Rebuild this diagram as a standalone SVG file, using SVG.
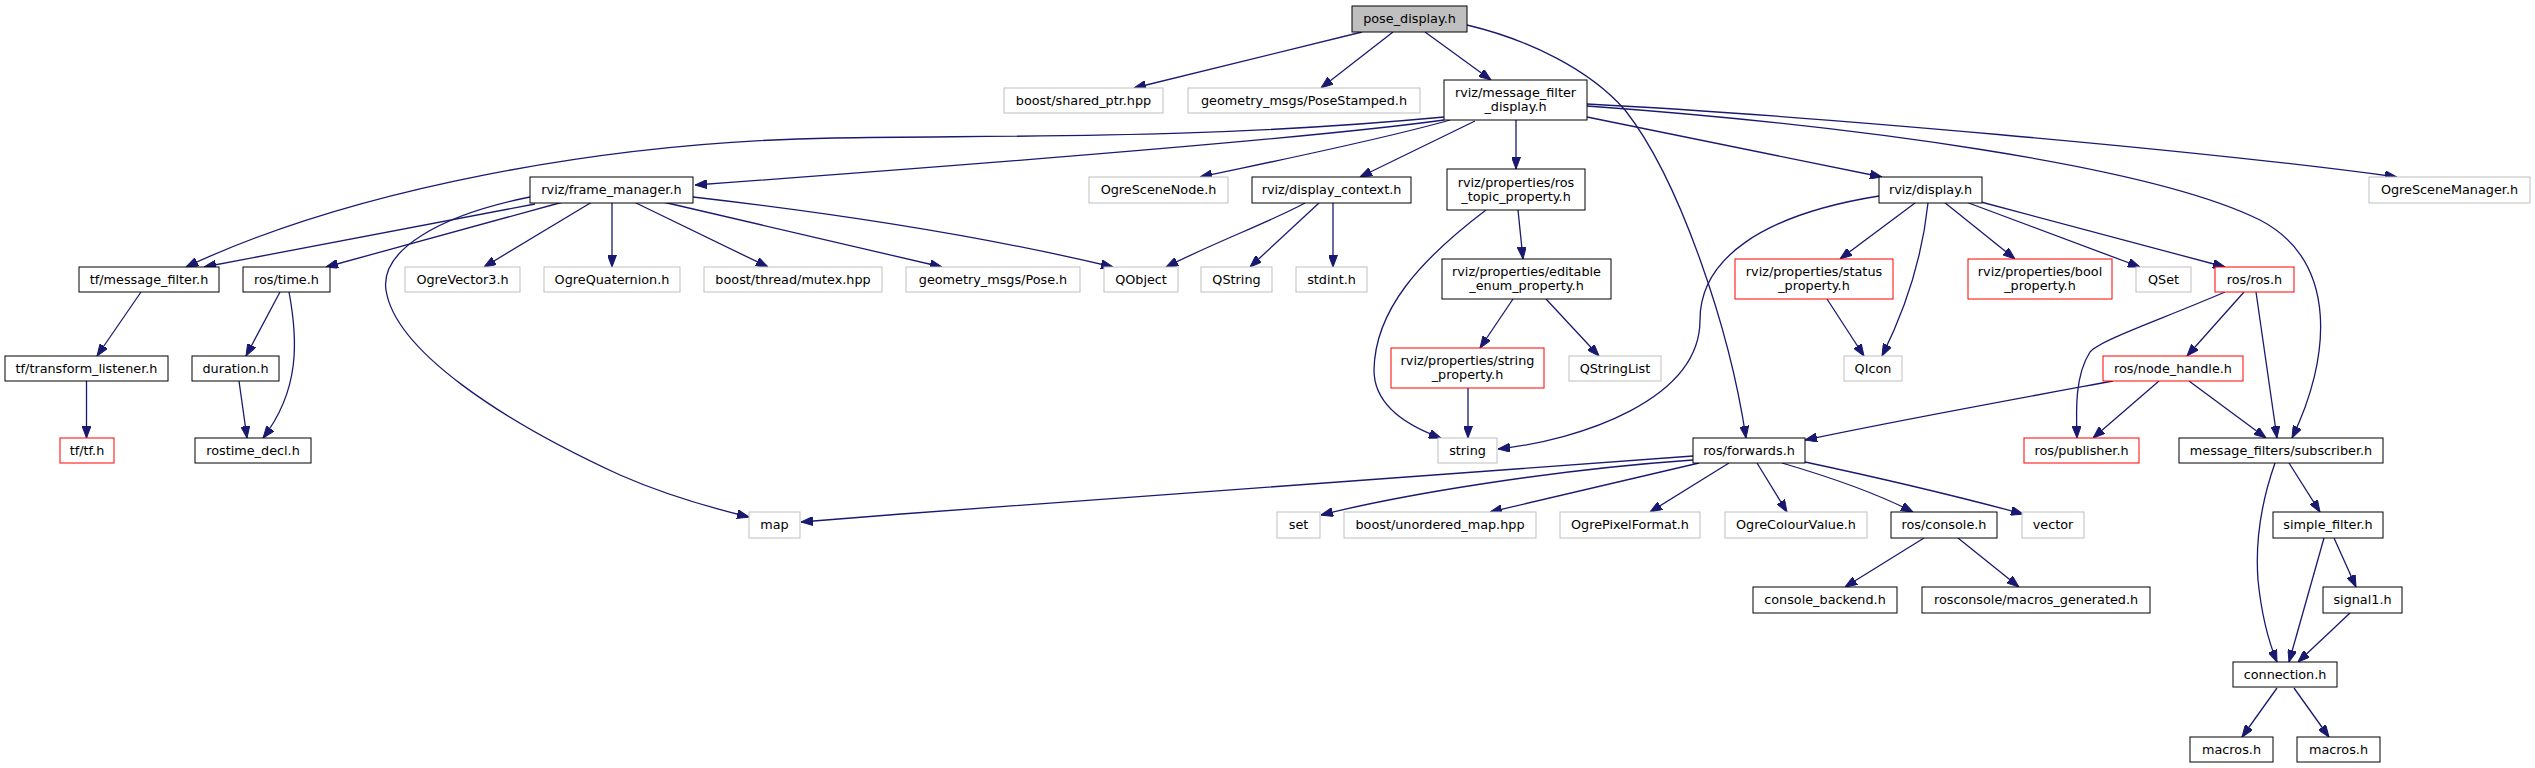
<svg xmlns="http://www.w3.org/2000/svg" width="2535" height="768" viewBox="0 0 2535 768">
<style>
.nb rect{fill:#ffffff;stroke:#000000;stroke-width:1}
.ng rect{fill:#ffffff;stroke:#bfbfbf;stroke-width:1}
.nr rect{fill:#ffffff;stroke:#ff0000;stroke-width:1}
.nroot rect{fill:#bfbfbf;stroke:#000000;stroke-width:1}
text{font-family:"DejaVu Sans","Liberation Sans",sans-serif;font-size:12.8px;fill:#000000;text-anchor:middle}
#edges path{fill:none;stroke:#191970;stroke-width:1.3;marker-end:url(#arr)}
</style>
<defs>
<marker id="arr" markerUnits="userSpaceOnUse" markerWidth="12" markerHeight="9" refX="12" refY="4.5" orient="auto">
<path d="M0,0 L12,4.5 L0,9 z" fill="#191970" stroke="#191970" stroke-width="1"/>
</marker>
</defs>
<rect x="0" y="0" width="2535" height="768" fill="#ffffff"/>
<g id="edges">
<path d="M1362,32 L1134,88"/>
<path d="M1393,32 L1321,88"/>
<path d="M1425,32 L1491,80"/>
<path d="M1467,25 C1530,40 1590,70 1625,110 C1680,180 1730,330 1746,438"/>
<path d="M1444,117 C1200,140 1000,135 834,138 C600,142 350,190 186,267"/>
<path d="M1444,120 C1300,140 900,170 695,185"/>
<path d="M1450,120 C1380,140 1280,160 1200,177"/>
<path d="M1475,121 L1360,177"/>
<path d="M1516,120 L1516,169"/>
<path d="M1587,117 L1882,177"/>
<path d="M1587,104 C1800,115 2200,150 2397,177"/>
<path d="M1587,106 C1850,125 2150,165 2260,220 C2340,262 2330,360 2292,438"/>
<path d="M535,204 L204,267"/>
<path d="M563,202 L326,267"/>
<path d="M530,197 C440,215 380,250 386,290 C395,350 500,420 620,475 C670,497 720,510 749,517"/>
<path d="M592,202 L484,267"/>
<path d="M612,202 L612,267"/>
<path d="M634,202 L768,267"/>
<path d="M663,202 L942,267"/>
<path d="M693,197 C850,215 1000,240 1113,267"/>
<path d="M1305,203 C1270,222 1220,240 1166,267"/>
<path d="M1319,203 L1250,267"/>
<path d="M1333,203 L1333,267"/>
<path d="M1518,210 L1523,259"/>
<path d="M1486,210 C1420,260 1375,310 1374,370 C1374,405 1405,425 1441,438"/>
<path d="M1513,299 L1480,348"/>
<path d="M1546,299 L1599,356"/>
<path d="M1468,388 L1468,438"/>
<path d="M1879,196 C1760,215 1700,260 1700,320 C1700,400 1580,440 1498,449"/>
<path d="M1915,203 L1840,259"/>
<path d="M1928,203 C1922,260 1905,310 1882,356"/>
<path d="M1944,202 L2015,259"/>
<path d="M1966,202 L2140,267"/>
<path d="M1981,202 L2225,267"/>
<path d="M1827,299 L1864,356"/>
<path d="M2225,292 C2160,320 2100,340 2090,352 C2075,375 2076,410 2077,438"/>
<path d="M2244,292 L2187,356"/>
<path d="M2256,292 L2277,438"/>
<path d="M2113,381 C2010,400 1900,420 1805,440"/>
<path d="M2159,381 L2093,438"/>
<path d="M2189,381 L2266,438"/>
<path d="M1693,456 C1400,475 1100,498 801,522"/>
<path d="M1693,460 C1550,470 1400,495 1321,515"/>
<path d="M1699,463 L1490,512"/>
<path d="M1729,463 L1650,512"/>
<path d="M1757,463 L1787,512"/>
<path d="M1782,463 C1840,480 1880,495 1913,512"/>
<path d="M1805,462 C1880,478 1960,497 2023,514"/>
<path d="M1924,538 L1845,587"/>
<path d="M1958,538 L2019,587"/>
<path d="M2275,463 C2262,500 2255,540 2258,580 C2262,620 2270,645 2277,662"/>
<path d="M2289,463 L2320,512"/>
<path d="M2324,538 L2289,662"/>
<path d="M2334,538 L2356,587"/>
<path d="M2350,613 L2298,662"/>
<path d="M2277,688 L2242,737"/>
<path d="M2294,688 L2329,737"/>
<path d="M141,292 L97,356"/>
<path d="M86.5,381 L86.5,438"/>
<path d="M280,292 L246,356"/>
<path d="M289,292 C298,340 300,390 263,438"/>
<path d="M239,381 L247,438"/>
</g>
<g id="n_pose_display" class="nroot"><rect x="1352" y="6" width="115" height="26"/><text x="1409.5" y="23">pose_display.h</text></g>
<g id="n_shared_ptr" class="ng"><rect x="1004" y="88" width="159" height="25"/><text x="1083.5" y="104.5">boost/shared_ptr.hpp</text></g>
<g id="n_posestamped" class="ng"><rect x="1188" y="88" width="232" height="25"/><text x="1304" y="104.5">geometry_msgs/PoseStamped.h</text></g>
<g id="n_mfd" class="nb"><rect x="1444" y="80" width="143" height="40"/><text x="1515.5" y="97">rviz/message_filter</text><text x="1515.5" y="111">_display.h</text></g>
<g id="n_frame_manager" class="nb"><rect x="530" y="177" width="163" height="26"/><text x="611.5" y="194">rviz/frame_manager.h</text></g>
<g id="n_scenenode" class="ng"><rect x="1089" y="177" width="139" height="26"/><text x="1158.5" y="194">OgreSceneNode.h</text></g>
<g id="n_display_context" class="nb"><rect x="1252" y="177" width="159" height="26"/><text x="1331.5" y="194">rviz/display_context.h</text></g>
<g id="n_ros_topic" class="nb"><rect x="1447" y="169" width="138" height="41"/><text x="1516" y="186.5">rviz/properties/ros</text><text x="1516" y="200.5">_topic_property.h</text></g>
<g id="n_display" class="nb"><rect x="1879" y="177" width="103" height="26"/><text x="1930.5" y="194">rviz/display.h</text></g>
<g id="n_scenemanager" class="ng"><rect x="2369" y="177" width="161" height="26"/><text x="2449.5" y="194">OgreSceneManager.h</text></g>
<g id="n_tf_message_filter" class="nb"><rect x="79" y="267" width="140" height="25"/><text x="149" y="283.5">tf/message_filter.h</text></g>
<g id="n_ros_time" class="nb"><rect x="243" y="267" width="87" height="25"/><text x="286.5" y="283.5">ros/time.h</text></g>
<g id="n_vector3" class="ng"><rect x="405" y="267" width="115" height="25"/><text x="462.5" y="283.5">OgreVector3.h</text></g>
<g id="n_quaternion" class="ng"><rect x="544" y="267" width="136" height="25"/><text x="612" y="283.5">OgreQuaternion.h</text></g>
<g id="n_mutex" class="ng"><rect x="704" y="267" width="178" height="25"/><text x="793" y="283.5">boost/thread/mutex.hpp</text></g>
<g id="n_pose" class="ng"><rect x="906" y="267" width="174" height="25"/><text x="993" y="283.5">geometry_msgs/Pose.h</text></g>
<g id="n_qobject" class="ng"><rect x="1104" y="267" width="74" height="25"/><text x="1141" y="283.5">QObject</text></g>
<g id="n_qstring" class="ng"><rect x="1201" y="267" width="71" height="25"/><text x="1236.5" y="283.5">QString</text></g>
<g id="n_stdint" class="ng"><rect x="1296" y="267" width="71" height="25"/><text x="1331.5" y="283.5">stdint.h</text></g>
<g id="n_editable_enum" class="nb"><rect x="1442" y="259" width="169" height="40"/><text x="1526.5" y="276">rviz/properties/editable</text><text x="1526.5" y="290">_enum_property.h</text></g>
<g id="n_status_property" class="nr"><rect x="1735" y="259" width="158" height="40"/><text x="1814" y="276">rviz/properties/status</text><text x="1814" y="290">_property.h</text></g>
<g id="n_bool_property" class="nr"><rect x="1968" y="259" width="144" height="40"/><text x="2040" y="276">rviz/properties/bool</text><text x="2040" y="290">_property.h</text></g>
<g id="n_qset" class="ng"><rect x="2136" y="267" width="55" height="25"/><text x="2163.5" y="283.5">QSet</text></g>
<g id="n_ros_ros" class="nr"><rect x="2215" y="267" width="79" height="25"/><text x="2254.5" y="283.5">ros/ros.h</text></g>
<g id="n_transform_listener" class="nb"><rect x="5" y="356" width="163" height="25"/><text x="86.5" y="372.5">tf/transform_listener.h</text></g>
<g id="n_duration" class="nb"><rect x="192" y="356" width="87" height="25"/><text x="235.5" y="372.5">duration.h</text></g>
<g id="n_string_property" class="nr"><rect x="1391" y="348" width="153" height="40"/><text x="1467.5" y="365">rviz/properties/string</text><text x="1467.5" y="379">_property.h</text></g>
<g id="n_qstringlist" class="ng"><rect x="1569" y="356" width="92" height="25"/><text x="1615" y="372.5">QStringList</text></g>
<g id="n_qicon" class="ng"><rect x="1844" y="356" width="58" height="25"/><text x="1873" y="372.5">QIcon</text></g>
<g id="n_node_handle" class="nr"><rect x="2103" y="356" width="140" height="25"/><text x="2173" y="372.5">ros/node_handle.h</text></g>
<g id="n_tf_tf" class="nr"><rect x="60" y="438" width="54" height="25"/><text x="87" y="454.5">tf/tf.h</text></g>
<g id="n_rostime_decl" class="nb"><rect x="195" y="438" width="116" height="25"/><text x="253" y="454.5">rostime_decl.h</text></g>
<g id="n_string" class="ng"><rect x="1438" y="438" width="59" height="25"/><text x="1467.5" y="454.5">string</text></g>
<g id="n_forwards" class="nb"><rect x="1693" y="438" width="112" height="25"/><text x="1749" y="454.5">ros/forwards.h</text></g>
<g id="n_publisher" class="nr"><rect x="2024" y="438" width="115" height="25"/><text x="2081.5" y="454.5">ros/publisher.h</text></g>
<g id="n_subscriber" class="nb"><rect x="2179" y="438" width="204" height="25"/><text x="2281" y="454.5">message_filters/subscriber.h</text></g>
<g id="n_map" class="ng"><rect x="749" y="512" width="51" height="26"/><text x="774.5" y="529">map</text></g>
<g id="n_set" class="ng"><rect x="1277" y="512" width="43" height="26"/><text x="1298.5" y="529">set</text></g>
<g id="n_unordered_map" class="ng"><rect x="1344" y="512" width="192" height="26"/><text x="1440" y="529">boost/unordered_map.hpp</text></g>
<g id="n_pixelformat" class="ng"><rect x="1560" y="512" width="140" height="26"/><text x="1630" y="529">OgrePixelFormat.h</text></g>
<g id="n_colourvalue" class="ng"><rect x="1725" y="512" width="142" height="26"/><text x="1796" y="529">OgreColourValue.h</text></g>
<g id="n_console" class="nb"><rect x="1891" y="512" width="106" height="26"/><text x="1944" y="529">ros/console.h</text></g>
<g id="n_vector" class="ng"><rect x="2022" y="512" width="62" height="26"/><text x="2053" y="529">vector</text></g>
<g id="n_simple_filter" class="nb"><rect x="2273" y="512" width="110" height="26"/><text x="2328" y="529">simple_filter.h</text></g>
<g id="n_console_backend" class="nb"><rect x="1753" y="587" width="144" height="26"/><text x="1825" y="604">console_backend.h</text></g>
<g id="n_macros_generated" class="nb"><rect x="1922" y="587" width="228" height="26"/><text x="2036" y="604">rosconsole/macros_generated.h</text></g>
<g id="n_signal1" class="nb"><rect x="2323" y="587" width="79" height="26"/><text x="2362.5" y="604">signal1.h</text></g>
<g id="n_connection" class="nb"><rect x="2233" y="662" width="104" height="25"/><text x="2285" y="678.5">connection.h</text></g>
<g id="n_macros_1" class="nb"><rect x="2190" y="737" width="83" height="25"/><text x="2231.5" y="753.5">macros.h</text></g>
<g id="n_macros_2" class="nb"><rect x="2297" y="737" width="83" height="25"/><text x="2338.5" y="753.5">macros.h</text></g>
</svg>
